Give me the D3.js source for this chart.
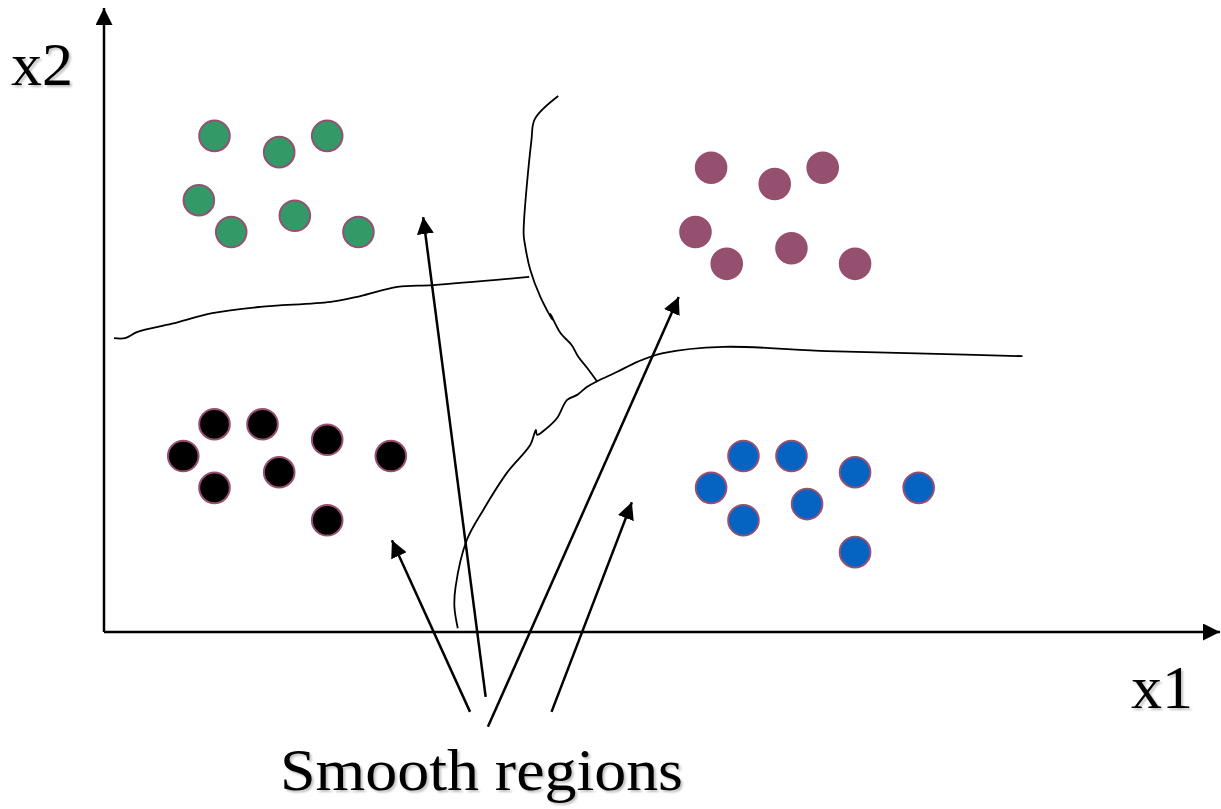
<!DOCTYPE html>
<html>
<head>
<meta charset="utf-8">
<script src="https://cdn.jsdelivr.net/npm/d3@7"></script>
<style>
  html, body { margin: 0; padding: 0; background: #fff; }
  svg { display: block; }
</style>
</head>
<body>
<div id="chart"></div>
<script>
// cluster points, in x1/x2 units (0..100 on both axes)
var greenX  = [9.9, 15.7, 20.0, 8.5, 11.4, 17.1, 22.8];
var greenY  = [79.5, 76.9, 79.5, 69.2, 64.1, 66.7, 64.1];
var purpleX = [54.4, 60.1, 64.4, 53.0, 55.8, 61.6, 67.3];
var purpleY = [74.4, 71.8, 74.4, 64.1, 59.0, 61.5, 59.0];
var blackX  = [9.9, 14.2, 20.0, 7.1, 15.7, 25.7, 9.9, 20.0];
var blackY  = [33.3, 33.3, 30.8, 28.2, 25.6, 28.2, 23.1, 17.9];
var blueX   = [57.3, 61.6, 67.3, 54.4, 63.0, 73.0, 57.3, 67.3];
var blueY   = [28.2, 28.2, 25.6, 23.1, 20.5, 23.1, 17.9, 12.8];

// hand drawn boundaries
var leftBoundX  = [0.9, 1.9, 3.0, 6.1, 9.7, 14.0, 20.3, 22.9, 26.3, 29.5, 38.1];
var leftBoundY  = [47.1, 47.1, 48.1, 49.4, 51.1, 52.1, 52.9, 53.8, 55.3, 55.6, 56.9];
var topBoundX   = [40.7, 38.6, 38.3, 37.6, 37.7, 38.2, 39.1, 40.2, 40.0, 40.9, 41.9, 42.5, 43.3, 44.2];
var topBoundY   = [85.9, 82.2, 78.8, 63.9, 62.3, 58.0, 53.7, 50.0, 51.0, 47.9, 46.0, 44.1, 42.3, 40.1];
var lowBoundX   = [31.7, 31.4, 31.5, 32.5, 34.0, 36.1, 38.2, 38.7, 38.8, 39.7, 40.6, 41.5, 42.4, 43.3, 44.2, 46.0, 47.8, 50.1, 55.5, 64.8, 73.7, 82.3];
var lowBoundY   = [0.6, 4.0, 7.2, 14.7, 19.6, 25.5, 30.0, 32.4, 31.6, 32.7, 34.3, 37.2, 38.0, 39.3, 40.2, 41.7, 43.3, 44.7, 45.7, 45.0, 44.6, 44.2];

// annotation arrows: start (near label) -> tip (in a region)
var arrowFromX = [32.8, 34.2, 34.4, 40.1];
var arrowFromY = [-12.8, -10.4, -15.2, -12.8];
var arrowToX   = [25.8, 28.6, 51.5, 47.3];
var arrowToY   = [14.7, 66.5, 53.7, 20.8];

var xLabel = "x1";
var yLabel = "x2";
var noteLabel = "Smooth regions";

var width = 1221;
var height = 809;

var x = d3.scaleLinear().domain([0, 100]).range([104, 1220]);
var y = d3.scaleLinear().domain([0, 100]).range([632, 8]);

var svg = d3.select("#chart")
			.append("svg")
			.attr("width", width)
			.attr("height", height);

var defs = svg.append("defs");
defs.append("marker")
	.attr("id", "head")
	.attr("markerUnits", "userSpaceOnUse")
	.attr("viewBox", "0 0 17 17")
	.attr("refX", 17).attr("refY", 8.5)
	.attr("markerWidth", 17).attr("markerHeight", 17)
	.attr("orient", "auto")
	.append("path")
	.attr("d", "M0,0L17,8.5L0,17Z")
	.attr("fill", "#000");

var shadow = defs.append("filter")
	.attr("id", "shadow")
	.attr("x", "-10%").attr("y", "-10%")
	.attr("width", "130%").attr("height", "130%");
shadow.append("feDropShadow")
	.attr("dx", 2).attr("dy", 2)
	.attr("stdDeviation", 1.2)
	.attr("flood-color", "#000")
	.attr("flood-opacity", 0.25);

// axes
svg.append("line")
	.attr("x1", x(0)).attr("y1", y(0))
	.attr("x2", x(100)).attr("y2", y(0))
	.attr("stroke", "#000").attr("stroke-width", 2.5)
	.attr("marker-end", "url(#head)");
svg.append("line")
	.attr("x1", x(0)).attr("y1", y(0))
	.attr("x2", x(0)).attr("y2", y(100))
	.attr("stroke", "#000").attr("stroke-width", 2.5)
	.attr("marker-end", "url(#head)");

// boundaries
var line = d3.line()
	.x(function(d) { return x(d[0]); })
	.y(function(d) { return y(d[1]); })
	.curve(d3.curveCatmullRom.alpha(0.5));

function zip(xs, ys) {
	return xs.map(function(v, i) { return [v, ys[i]]; });
}

[zip(leftBoundX, leftBoundY), zip(topBoundX, topBoundY), zip(lowBoundX, lowBoundY)].forEach(function(pts) {
	svg.append("path")
		.attr("d", line(pts))
		.attr("fill", "none")
		.attr("stroke", "#000")
		.attr("stroke-width", 1.8)
		.attr("stroke-linejoin", "round");
});

// clusters
var clusters = [
	{xs: greenX,  ys: greenY,  fill: "#339966", stroke: "#955073"},
	{xs: purpleX, ys: purpleY, fill: "#96506f", stroke: "#96506f"},
	{xs: blackX,  ys: blackY,  fill: "#000000", stroke: "#955073"},
	{xs: blueX,   ys: blueY,   fill: "#0563c1", stroke: "#955073"}
];

clusters.forEach(function(c) {
	svg.append("g")
		.selectAll("circle")
		.data(zip(c.xs, c.ys))
		.enter()
			.append("circle")
			.attr("cx", function(d) { return x(d[0]); })
			.attr("cy", function(d) { return y(d[1]); })
			.attr("r", 15.3)
			.attr("fill", c.fill)
			.attr("stroke", c.stroke)
			.attr("stroke-width", 2);
});

// annotation arrows
svg.append("g")
	.selectAll("line")
	.data(arrowFromX.map(function(v, i) { return i; }))
	.enter()
		.append("line")
		.attr("x1", function(i) { return x(arrowFromX[i]); })
		.attr("y1", function(i) { return y(arrowFromY[i]); })
		.attr("x2", function(i) { return x(arrowToX[i]); })
		.attr("y2", function(i) { return y(arrowToY[i]); })
		.attr("stroke", "#000")
		.attr("stroke-width", 2.5)
		.attr("marker-end", "url(#head)");

// texts
var serif = "'Liberation Serif', 'Times New Roman', serif";
svg.append("text")
	.attr("x", 11).attr("y", 85)
	.attr("font-family", serif).attr("font-size", 62)
	.attr("filter", "url(#shadow)")
	.text(yLabel);
svg.append("text")
	.attr("x", 1131).attr("y", 708)
	.attr("font-family", serif).attr("font-size", 62)
	.attr("filter", "url(#shadow)")
	.text(xLabel);
svg.append("text")
	.attr("x", 280).attr("y", 790)
	.attr("font-family", serif).attr("font-size", 60)
	.attr("textLength", 403)
	.attr("lengthAdjust", "spacingAndGlyphs")
	.attr("filter", "url(#shadow)")
	.text(noteLabel);
</script>
</body>
</html>
